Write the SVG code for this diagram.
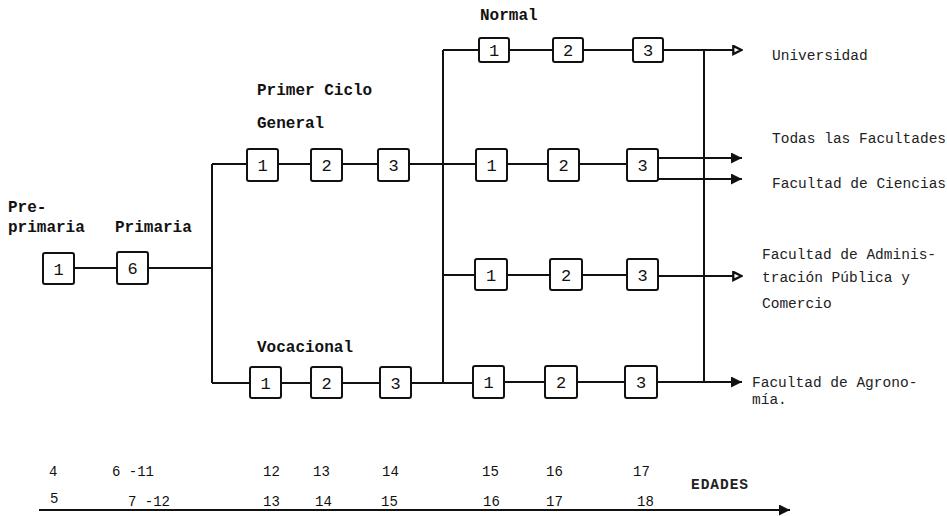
<svg xmlns="http://www.w3.org/2000/svg" width="947" height="516" viewBox="0 0 947 516">
<style>
.ln{fill:none;stroke:#111;stroke-width:2}
.bx{fill:#fff;stroke:#111;stroke-width:2}
.lb{font-family:"Liberation Mono","DejaVu Sans Mono",monospace;font-size:16px;font-weight:bold;fill:#111}
.rl{font-family:"Liberation Mono","DejaVu Sans Mono",monospace;font-size:14.5px;fill:#222}
.nm{font-family:"Liberation Mono","DejaVu Sans Mono",monospace;font-size:17px;fill:#111;text-anchor:middle}
.ag{font-family:"Liberation Mono","DejaVu Sans Mono",monospace;font-size:14px;fill:#111}
</style>
<defs>
<marker id="af" viewBox="0 0 10 10" refX="10" refY="5" markerWidth="11" markerHeight="11" markerUnits="userSpaceOnUse" orient="auto"><path d="M0,0 L10,5 L0,10 z" fill="#111"/></marker>
<marker id="ao" viewBox="0 0 12 12" refX="11" refY="6" markerWidth="11" markerHeight="11" markerUnits="userSpaceOnUse" orient="auto"><path d="M1.5,1.5 L10.5,6 L1.5,10.5 z" fill="#fff" stroke="#111" stroke-width="2.5"/></marker>
</defs>
<rect width="947" height="516" fill="#fff"/>
<g id="connectors" class="ln">
<path d="M74,268 H117"/>
<path d="M148,268 H212"/>
<path d="M212,164 V383"/>
<path d="M212,164 H247"/>
<path d="M278,164 H311"/>
<path d="M342,164 H378"/>
<path d="M409,164 H476"/>
<path d="M212,383 H250"/>
<path d="M281,383 H311"/>
<path d="M342,383 H380"/>
<path d="M411,383 H473"/>
<path d="M443,50 V383"/>
<path d="M443,50 H479"/>
<path d="M509,50 H553"/>
<path d="M583,50 H633"/>
<path d="M663,50 H742" marker-end="url(#ao)"/>
<path d="M507,164 H548"/>
<path d="M579,164 H627"/>
<path d="M658,158 H742" marker-end="url(#af)"/>
<path d="M658,179 H742" marker-end="url(#af)"/>
<path d="M443,275 H475"/>
<path d="M507,275 H550"/>
<path d="M582,275 H627"/>
<path d="M658,276 H742" marker-end="url(#ao)"/>
<path d="M504,382 H545"/>
<path d="M577,382 H625"/>
<path d="M657,382 H742" marker-end="url(#af)"/>
<path d="M704,50 V382"/>
<path d="M39,510 H790" marker-end="url(#af)"/>
</g>
<g id="pre-primaria"><rect class="bx" x="43" y="253" width="31" height="31" rx="2"/><text class="nm" x="58.5" y="275">1</text></g>
<g id="primaria"><rect class="bx" x="117" y="252" width="31" height="32" rx="2"/><text class="nm" x="132.5" y="274">6</text></g>
<g id="general-1"><rect class="bx" x="247" y="149" width="31" height="32" rx="2"/><text class="nm" x="262.5" y="171">1</text></g>
<g id="general-2"><rect class="bx" x="311" y="149" width="31" height="32" rx="2"/><text class="nm" x="326.5" y="171">2</text></g>
<g id="general-3"><rect class="bx" x="378" y="149" width="31" height="32" rx="2"/><text class="nm" x="393.5" y="171">3</text></g>
<g id="voc-1"><rect class="bx" x="250" y="367" width="31" height="31" rx="2"/><text class="nm" x="265.5" y="389">1</text></g>
<g id="voc-2"><rect class="bx" x="311" y="367" width="31" height="31" rx="2"/><text class="nm" x="326.5" y="389">2</text></g>
<g id="voc-3"><rect class="bx" x="380" y="367" width="31" height="31" rx="2"/><text class="nm" x="395.5" y="389">3</text></g>
<g id="normal-1"><rect class="bx" x="479" y="38" width="30" height="24" rx="2"/><text class="nm" x="494" y="56">1</text></g>
<g id="normal-2"><rect class="bx" x="553" y="38" width="30" height="24" rx="2"/><text class="nm" x="568" y="56">2</text></g>
<g id="normal-3"><rect class="bx" x="633" y="38" width="30" height="24" rx="2"/><text class="nm" x="648" y="56">3</text></g>
<g id="bach-1"><rect class="bx" x="476" y="149" width="31" height="32" rx="2"/><text class="nm" x="491.5" y="171">1</text></g>
<g id="bach-2"><rect class="bx" x="548" y="149" width="31" height="32" rx="2"/><text class="nm" x="563.5" y="171">2</text></g>
<g id="bach-3"><rect class="bx" x="627" y="149" width="31" height="32" rx="2"/><text class="nm" x="642.5" y="171">3</text></g>
<g id="com-1"><rect class="bx" x="475" y="259" width="32" height="31" rx="2"/><text class="nm" x="491" y="281">1</text></g>
<g id="com-2"><rect class="bx" x="550" y="259" width="32" height="31" rx="2"/><text class="nm" x="566" y="281">2</text></g>
<g id="com-3"><rect class="bx" x="627" y="259" width="31" height="31" rx="2"/><text class="nm" x="642.5" y="281">3</text></g>
<g id="agr-1"><rect class="bx" x="473" y="366" width="31" height="32" rx="2"/><text class="nm" x="488.5" y="388">1</text></g>
<g id="agr-2"><rect class="bx" x="545" y="366" width="32" height="32" rx="2"/><text class="nm" x="561" y="388">2</text></g>
<g id="agr-3"><rect class="bx" x="625" y="366" width="32" height="32" rx="2"/><text class="nm" x="641" y="388">3</text></g>
<g id="labels">
<text class="lb" x="480" y="20">Normal</text>
<text class="lb" x="257" y="95">Primer Ciclo</text>
<text class="lb" x="257" y="128">General</text>
<text class="lb" x="8" y="212">Pre-</text>
<text class="lb" x="8" y="232">primaria</text>
<text class="lb" x="115" y="232">Primaria</text>
<text class="lb" x="257" y="352">Vocacional</text>
<text class="rl" x="772" y="60">Universidad</text>
<text class="rl" x="772" y="143">Todas las Facultades</text>
<text class="rl" x="772" y="188">Facultad de Ciencias</text>
<text class="rl" x="762" y="259">Facultad de Adminis-</text>
<text class="rl" x="762" y="282">tración Pública y</text>
<text class="rl" x="762" y="308">Comercio</text>
<text class="rl" x="752" y="387">Facultad de Agrono-</text>
<text class="rl" x="752" y="404">mía.</text>
<text class="rl" x="691" y="489" textLength="57" font-weight="bold">EDADES</text>
</g>
<g id="ages">
<text class="ag" x="49" y="476">4</text>
<text class="ag" x="112" y="476">6 -11</text>
<text class="ag" x="263" y="476">12</text>
<text class="ag" x="313" y="476">13</text>
<text class="ag" x="382" y="476">14</text>
<text class="ag" x="482" y="476">15</text>
<text class="ag" x="546" y="476">16</text>
<text class="ag" x="633" y="476">17</text>
<text class="ag" x="50" y="503">5</text>
<text class="ag" x="128" y="506">7 -12</text>
<text class="ag" x="263" y="506">13</text>
<text class="ag" x="315" y="506">14</text>
<text class="ag" x="381" y="506">15</text>
<text class="ag" x="483" y="506">16</text>
<text class="ag" x="546" y="506">17</text>
<text class="ag" x="637" y="506">18</text>
</g>
</svg>
